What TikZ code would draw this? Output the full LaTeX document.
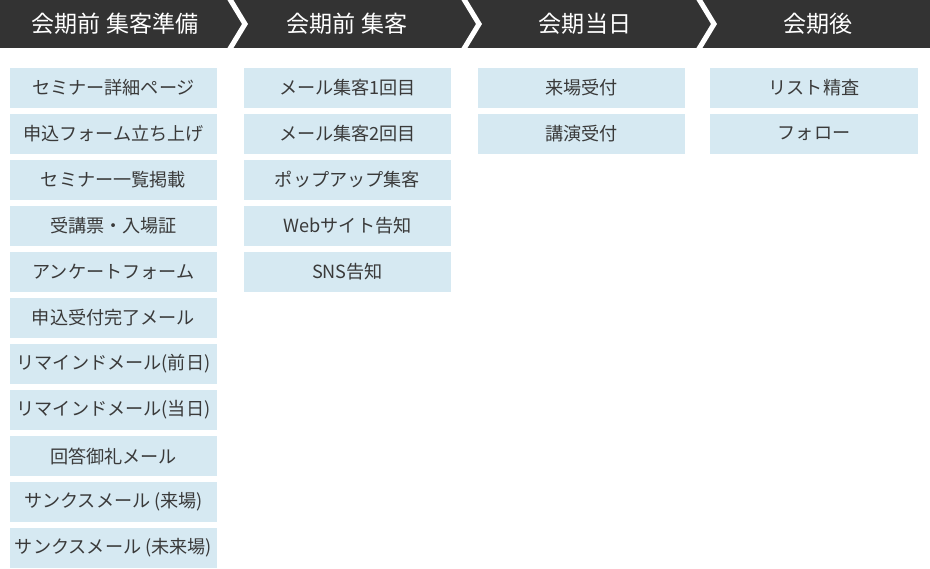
\documentclass[tikz,border=0pt]{standalone}
\usepackage{fontspec}
\setmainfont{Noto Sans CJK JP}
\definecolor{headdark}{HTML}{333333}
\definecolor{boxblue}{HTML}{D6E9F2}
\definecolor{textgray}{HTML}{3A3A3A}
\tikzset{
	task/.style={fill=boxblue, text=textgray, minimum width=155.6pt, minimum height=30pt, inner sep=0pt, font=\fontsize{13.6pt}{15pt}\selectfont},
	phase/.style={text=white, inner sep=0pt, font=\fontsize{17.3pt}{19pt}\selectfont},
	chevron/.style={white, line width=3.8pt, line join=miter}
}
\begin{document}
\begin{tikzpicture}[x=0.75pt, y=-0.75pt]
		\useasboundingbox (0,0) rectangle (930,568);
		
		% Header bar
		\fill[headdark] (0,0) rectangle (930,48);
		\draw[chevron] (228,-4) -- (245,24) -- (228,52);
		\draw[chevron] (462,-4) -- (479,24) -- (462,52);
		\draw[chevron] (697,-4) -- (714,24) -- (697,52);
		
		\node[phase] (ph1) at (115,24) {会期前 集客準備};
		\node[phase] (ph2) at (347,24) {会期前 集客};
		\node[phase] (ph3) at (585,24) {会期当日};
		\node[phase] (ph4) at (818,24) {会期後};
		
		% Column 1
		\node[task] (a1) at (113.5,88) {セミナー詳細ページ};
		\node[task] (a2) at (113.5,134) {申込フォーム立ち上げ};
		\node[task] (a3) at (113.5,180) {セミナー一覧掲載};
		\node[task] (a4) at (113.5,226) {受講票・入場証};
		\node[task] (a5) at (113.5,272) {アンケートフォーム};
		\node[task] (a6) at (113.5,318) {申込受付完了メール};
		\node[task] (a7) at (113.5,364) {リマインドメール(前日)};
		\node[task] (a8) at (113.5,410) {リマインドメール(当日)};
		\node[task] (a9) at (113.5,456) {回答御礼メール};
		\node[task] (a10) at (113.5,502) {サンクスメール (来場)};
		\node[task] (a11) at (113.5,548) {サンクスメール (未来場)};
		
		% Column 2
		\node[task] (b1) at (347.5,88) {メール集客1回目};
		\node[task] (b2) at (347.5,134) {メール集客2回目};
		\node[task] (b3) at (347.5,180) {ポップアップ集客};
		\node[task] (b4) at (347.5,226) {Webサイト告知};
		\node[task] (b5) at (347.5,272) {SNS告知};
		
		% Column 3
		\node[task] (c1) at (581.5,88) {来場受付};
		\node[task] (c2) at (581.5,134) {講演受付};
		
		% Column 4
		\node[task] (d1) at (814,88) {リスト精査};
		\node[task] (d2) at (814,134) {フォロー};
	\end{tikzpicture}
\end{document}
